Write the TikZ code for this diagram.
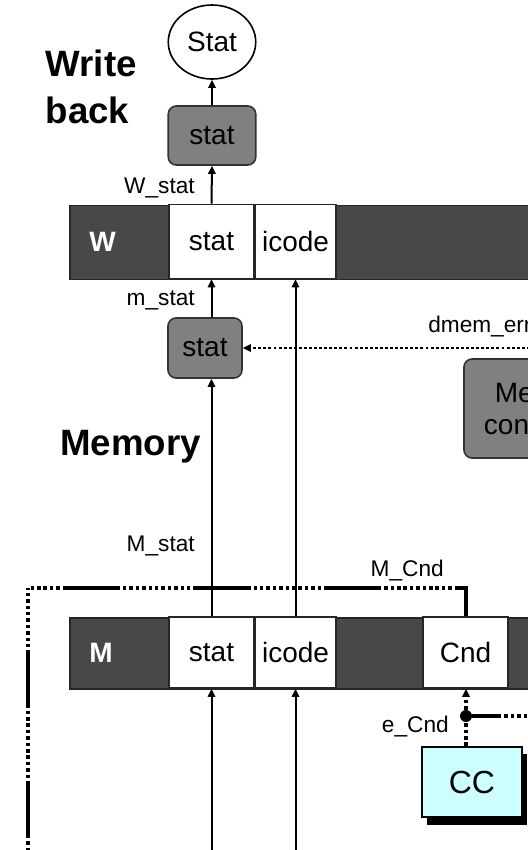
\documentclass[tikz,border=0pt]{standalone}
\usepackage{fontspec}
\setmainfont{Liberation Sans}
\usetikzlibrary{arrows.meta,shapes.geometric,shadows}
\definecolor{regdark}{HTML}{484848}
\definecolor{boxgray}{HTML}{808080}
\definecolor{ccfill}{HTML}{CCFFFF}
\newcommand{\dgCell}{\fontsize{21}{24}\selectfont}
\newcommand{\dgSig}{\fontsize{17}{20}\selectfont}
\newcommand{\dgHead}{\fontsize{27.5}{35.25}\selectfont\bfseries}
\newcommand{\dgReg}{\fontsize{21}{24}\selectfont\bfseries}
\tikzset{
  tip/.style={-{Triangle[length=6pt,width=5.5pt]}},
  wire/.style={line width=1.5pt, tip},
  regbox/.style={draw=black!85, line width=1.2pt, fill=regdark, inner sep=0pt},
  cell/.style={draw=black!85, line width=1.2pt, fill=white, inner sep=0pt, font=\dgCell},
  statbox/.style={draw=black!80, line width=1.2pt, fill=boxgray, rounded corners=6pt,
                  inner sep=0pt, font=\dgCell},
  sig/.style={font=\dgSig, inner sep=0pt},
  % long dash followed by a run of dots
  ctrl/.style={line width=3pt,
    dash pattern=on 2.6pt off 2.2pt on 2.6pt off 2.2pt on 2.6pt off 2.2pt on 2.6pt off 2.2pt
      on 2.6pt off 2.2pt on 2.6pt off 2.2pt on 2.6pt off 2.2pt on 2.6pt off 2.2pt
      on 2.6pt off 2.2pt on 2.6pt off 2.2pt on 2.6pt off 2.2pt on 43pt off 2.2pt},
  dotwire/.style={line width=2.2pt, dash pattern=on 2.2pt off 1.6pt},
  dotwirebold/.style={line width=3pt, dash pattern=on 2.6pt off 2.2pt},
}
\begin{document}
\begin{tikzpicture}[x=0.75pt, y=-0.75pt]
\useasboundingbox (0,0) rectangle (528,850);
\clip (0,0) rectangle (528,850);

% write-back stage
\node[ellipse, draw, line width=1.2pt, minimum width=65.6pt, minimum height=55.5pt,
      inner sep=0pt, font=\dgCell] (statout) at (212,42) {Stat};
\node[statbox, minimum width=65.6pt, minimum height=44.25pt] (wbstat) at (212,135.5) {stat};
\node[font=\dgHead, anchor=north west, align=left, inner sep=0pt] (wbhead) at (45.5,50) {Write\\back};

% W pipeline register
\node[regbox, anchor=north west, minimum width=399pt, minimum height=55.5pt] (Wreg) at (69,204.5) {};
\node[font=\dgReg, text=white, inner sep=0pt] (Wlbl) at (102.5,242) {W};
\node[cell, minimum width=63.75pt, minimum height=55.5pt] (Wstat) at (211.5,241.5) {stat};
\node[cell, minimum width=60.75pt, minimum height=55.5pt] (Wicode) at (295.5,241.5) {icode};

% memory stage
\node[statbox, minimum width=55.5pt, minimum height=45pt] (mstatbox) at (205,348) {stat};
\node[statbox, minimum width=93pt, minimum height=74.25pt, align=center,
      font=\dgCell] (memctl) at (526,408.5) {Mem\\control};
\node[font=\dgHead, anchor=base west, inner sep=0pt] (memhead) at (60,455) {Memory};

% M pipeline register
\node[regbox, anchor=north west, minimum width=399pt, minimum height=53.25pt] (Mreg) at (69,617) {};
\node[font=\dgReg, text=white, inner sep=0pt] (Mlbl) at (101,652.5) {M};
\node[cell, minimum width=63.75pt, minimum height=53.25pt] (Mstat) at (211.5,652.5) {stat};
\node[cell, minimum width=60.75pt, minimum height=53.25pt] (Micode) at (295.5,652.5) {icode};
\node[cell, minimum width=63.75pt, minimum height=53.25pt] (MCnd) at (465.5,652.5) {Cnd};

% condition codes
\node[draw, line width=1.2pt, fill=ccfill, minimum width=74.6pt, minimum height=52.9pt,
      inner sep=0pt, font=\fontsize{24}{28}\selectfont,
      drop shadow={shadow xshift=3.75pt, shadow yshift=-5.6pt, fill=black, opacity=1}]
      (cc) at (472,782) {CC};
\node[circle, fill=black, inner sep=0pt, minimum size=9pt] (ecnd) at (466,716) {};

% signal names
\node[sig, anchor=base east] (lWstat) at (195,193) {W\_stat};
\node[sig, anchor=base east] (lmstat) at (195,305) {m\_stat};
\node[sig, anchor=base east] (lMstat) at (195,551) {M\_stat};
\node[sig, anchor=base east] (lMCnd) at (444,576) {M\_Cnd};
\node[sig, anchor=base east] (lecnd) at (449,732) {e\_Cnd};
\node[sig, anchor=base west] (ldmem) at (428,332) {dmem\_error};

% helper points at the picture edges and corners
\coordinate (bottomedge) at (0,860);
\coordinate (rightedge) at (545,0);
\coordinate (cndup) at (465.5,588);
\coordinate (leftup) at (28,588);
\coordinate (leftdown) at (28,860);
\coordinate (ecndmid) at (498,716);

% control path M_Cnd
\draw[ctrl, dash phase=66.5pt] (MCnd.north) -- (cndup) -- (leftup);
\draw[ctrl, dash phase=6pt] (leftup) -- (leftdown);

% data connectors
\draw[wire] (wbstat.north) -- (statout.south);
\draw[wire] (Wstat.north) -- (wbstat.south);
\draw[wire] (mstatbox.north -| Wstat.south) -- (Wstat.south);
\draw[wire] (Mstat.north) -- (mstatbox.south -| Mstat.north);
\draw[wire] (Micode.north) -- (Wicode.south);
\draw[wire] (Mstat.south |- bottomedge) -- (Mstat.south);
\draw[wire] (Micode.south |- bottomedge) -- (Micode.south);

% dmem_error
\draw[dotwire, tip] (mstatbox.east -| rightedge) -- (mstatbox.east);

% e_Cnd
\draw[dotwirebold] (cc.north -| ecnd) -- (ecnd);
\draw[dotwirebold, tip] (ecnd) -- (MCnd.south -| ecnd);
\draw[line width=3pt] (ecnd) -- (ecndmid);
\draw[dotwirebold] (ecndmid) -- (ecndmid -| rightedge);
\end{tikzpicture}
\end{document}
